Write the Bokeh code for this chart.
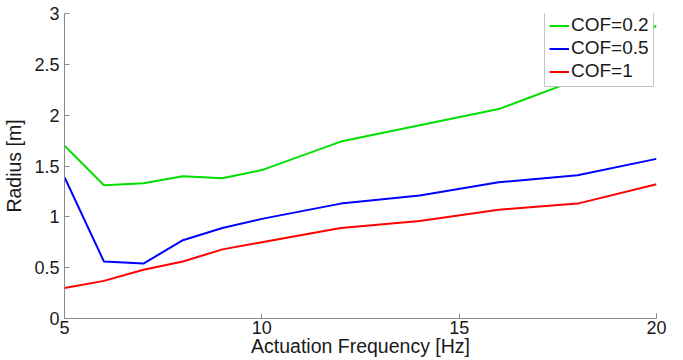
from bokeh.plotting import figure
from bokeh.models import FixedTicker, Range1d, Legend, LegendItem
from bokeh.embed import file_html
from bokeh.resources import INLINE

freq = [5, 6, 7, 8, 9, 10, 12, 14, 16, 18, 20]
cof_02 = [1.70, 1.31, 1.33, 1.40, 1.38, 1.46, 1.74, 1.90, 2.06, 2.35, 2.88]
cof_05 = [1.39, 0.56, 0.54, 0.77, 0.89, 0.98, 1.13, 1.21, 1.34, 1.41, 1.57]
cof_1 = [0.30, 0.37, 0.48, 0.56, 0.68, 0.75, 0.89, 0.96, 1.07, 1.13, 1.32]
x_ticks = [5, 10, 15, 20]
y_ticks = [0, 0.5, 1, 1.5, 2, 2.5, 3]
y_tick_labels = ["0", "0.5", "1", "1.5", "2", "2.5", "3"]
series_labels = ["COF=0.2", "COF=0.5", "COF=1"]
colors = ["#00e000", "#0000ff", "#ff0000"]

FONT = "Liberation Sans"

p = figure(width=683, height=360, output_backend="svg", toolbar_location=None,
           x_range=Range1d(5, 20), y_range=Range1d(0, 3),
           min_border_left=63, min_border_right=27, min_border_top=13, min_border_bottom=42)
p.outline_line_color = None
p.grid.visible = False
p.background_fill_color = "white"
p.border_fill_color = "white"

renderers = []
for ys, c in zip([cof_02, cof_05, cof_1], colors):
    r = p.line(freq, ys, line_color=c, line_width=2)
    renderers.append(r)

for ax in (p.xaxis[0], p.yaxis[0]):
    ax.axis_line_color = "#8a8a8a"
    ax.major_tick_line_color = "#8a8a8a"
    ax.major_tick_in = 5
    ax.major_tick_out = 0
    ax.minor_tick_line_color = None
    ax.major_label_text_font = FONT
    ax.major_label_text_font_size = "18px"
    ax.major_label_text_color = "#1a1a1a"
    ax.axis_label_text_font = FONT
    ax.axis_label_text_font_size = "19.5px"
    ax.axis_label_text_font_style = "normal"
    ax.axis_label_text_color = "#1a1a1a"

p.xaxis.ticker = FixedTicker(ticks=x_ticks)
p.xaxis.major_label_overrides = {t: str(t) for t in x_ticks}
p.xaxis.axis_label = "Actuation Frequency [Hz]"
p.xaxis.axis_label_standoff = -2
p.xaxis.major_label_standoff = 2

p.yaxis.ticker = FixedTicker(ticks=y_ticks)
p.yaxis.major_label_overrides = {t: l for t, l in zip(y_ticks, y_tick_labels)}
p.yaxis.axis_label = "Radius [m]"
p.yaxis.axis_label_standoff = 6
p.yaxis.major_label_standoff = 5

legend = Legend(items=[LegendItem(label=l, renderers=[r]) for l, r in zip(series_labels, renderers)],
                location=(480, 231))
legend.border_line_color = "#8a8a8a"
legend.label_text_font = FONT
legend.label_text_font_size = "19px"
legend.label_text_color = "#1a1a1a"
legend.glyph_width = 20
legend.glyph_height = 21
legend.label_height = 21
legend.label_standoff = 2
legend.spacing = 1
legend.padding = 4
legend.margin = 0
legend.background_fill_alpha = 1.0
p.add_layout(legend, "center")

open("out.html", "w").write(file_html(p, INLINE))
